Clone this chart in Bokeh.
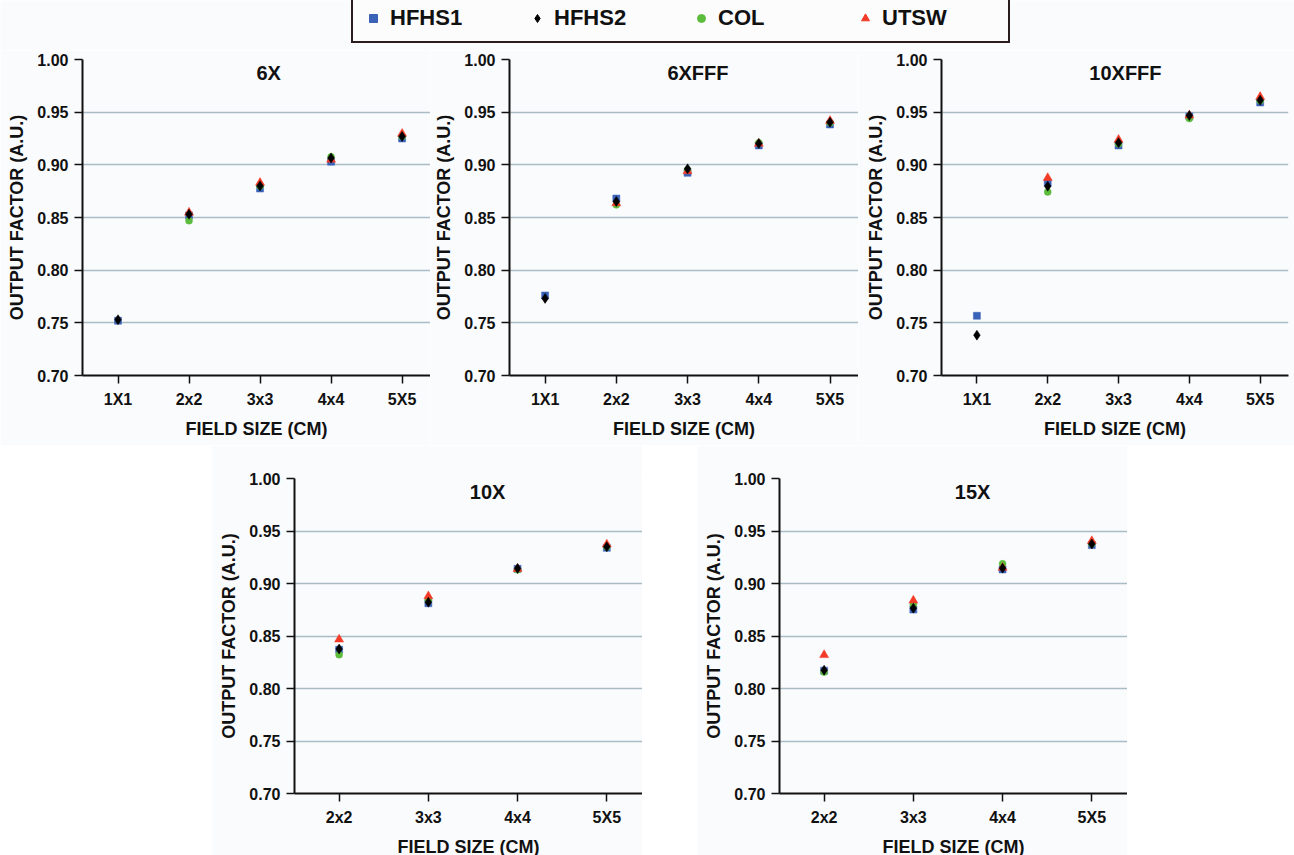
from bokeh.plotting import figure
from bokeh.models import (Range1d, FixedTicker, Label, Legend, LegendItem, Spacer,
                          PrintfTickFormatter, ColumnDataSource)
from bokeh.layouts import column, row
from bokeh.embed import file_html
from bokeh.resources import INLINE

nan = float("nan")

# ---------------- data ----------------
series = ["HFHS1", "HFHS2", "COL", "UTSW"]
cats_top = ["1X1", "2x2", "3x3", "4x4", "5X5"]
cats_bottom = ["2x2", "3x3", "4x4", "5X5"]
y_ticks = [0.70, 0.75, 0.80, 0.85, 0.90, 0.95, 1.00]
grid_ticks = [0.75, 0.80, 0.85, 0.90, 0.95]

# 6X
x6_hfhs1 = [0.752, 0.852, 0.8775, 0.903, 0.925]
x6_hfhs2 = [0.753, 0.853, 0.880, 0.9066, 0.927]
x6_col = [nan, 0.847, 0.880, 0.9076, 0.927]
x6_utsw = [nan, 0.8547, 0.883, 0.905, 0.9296]
# 6XFFF
x6fff_hfhs1 = [0.776, 0.868, 0.8924, 0.9184, 0.9383]
x6fff_hfhs2 = [0.7732, 0.8652, 0.8962, 0.9203, 0.9405]
x6fff_col = [nan, 0.862, 0.895, 0.9209, 0.940]
x6fff_utsw = [nan, 0.8636, 0.894, 0.920, 0.9418]
# 10XFFF
x10fff_hfhs1 = [0.7567, 0.883, 0.9184, 0.946, 0.9592]
x10fff_hfhs2 = [0.7383, 0.8797, 0.921, 0.9468, 0.9614]
x10fff_col = [nan, 0.8743, 0.920, 0.944, 0.961]
x10fff_utsw = [nan, 0.8876, 0.9238, 0.947, 0.9646]
# 10X
x10_hfhs1 = [0.837, 0.8812, 0.914, 0.934]
x10_hfhs2 = [0.8376, 0.8822, 0.9143, 0.935]
x10_col = [0.8322, 0.884, 0.913, 0.935]
x10_utsw = [0.8468, 0.8879, 0.914, 0.9373]
# 15X
x15_hfhs1 = [0.817, 0.8752, 0.9134, 0.9366]
x15_hfhs2 = [0.8175, 0.8765, 0.9146, 0.9376]
x15_col = [0.8156, 0.880, 0.9188, 0.938]
x15_utsw = [0.8319, 0.8838, 0.915, 0.9405]

# ---------------- styles ----------------
BG = "#fafbfd"
FONT = "Liberation Sans"
GRID = "#a9bcc6"
styles = {
    "HFHS1": dict(marker="square", color="#3a62b8", size=7),
    "HFHS2": dict(marker="diamond", color="#000000", size=10),
    "COL": dict(marker="circle", color="#5cbc3c", size=7),
    "UTSW": dict(marker="triangle", color="#f23a26", size=9),
}
draw_order = ["HFHS1", "COL", "UTSW", "HFHS2"]


def make_panel(title, cats, values, left, right, top, bottom, fw, fh, title_frac):
    n = len(cats)
    xr = Range1d(0.5, n + 0.4)
    p = figure(frame_width=fw, frame_height=fh,
               min_border_left=left, min_border_right=right,
               min_border_top=top, min_border_bottom=bottom,
               x_range=xr, y_range=Range1d(0.70, 1.00),
               toolbar_location=None, output_backend="svg",
               background_fill_color=BG, border_fill_color=BG,
               outline_line_color=None)
    xs = list(range(1, n + 1))
    for s in draw_order:
        st = styles[s]
        src = ColumnDataSource(dict(x=xs, y=values[s]))
        p.scatter("x", "y", source=src, marker=st["marker"], size=st["size"],
                  fill_color=st["color"], line_color=st["color"], line_width=0.5)
    # axes
    p.xaxis.ticker = FixedTicker(ticks=xs)
    p.xaxis.major_label_overrides = {i + 1: c for i, c in enumerate(cats)}
    p.yaxis.ticker = FixedTicker(ticks=y_ticks)
    p.yaxis.formatter = PrintfTickFormatter(format="%.2f")
    for ax in (p.xaxis[0], p.yaxis[0]):
        ax.axis_line_color = "#111111"
        ax.axis_line_width = 2
        ax.major_tick_line_color = "#111111"
        ax.major_tick_line_width = 1.5
        ax.major_tick_out = 8
        ax.major_tick_in = 0
        ax.minor_tick_line_color = None
        ax.major_label_text_font = FONT
        ax.major_label_text_font_style = "bold"
        ax.major_label_text_font_size = "16px"
        ax.major_label_text_color = "#111111"
        ax.axis_label_text_font = FONT
        ax.axis_label_text_font_style = "bold"
        ax.axis_label_text_font_size = "18px"
        ax.axis_label_text_color = "#111111"
    p.xaxis.axis_label = "FIELD SIZE (CM)"
    p.yaxis.axis_label = "OUTPUT FACTOR (A.U.)"
    p.xaxis.major_label_standoff = 7
    p.yaxis.major_label_standoff = 6
    p.xaxis.axis_label_standoff = 8
    p.yaxis.axis_label_standoff = 7
    p.xgrid.visible = False
    p.ygrid.ticker = FixedTicker(ticks=grid_ticks)
    p.ygrid.grid_line_color = GRID
    p.ygrid.grid_line_width = 1.5
    tx = xr.start + title_frac * (xr.end - xr.start)
    p.add_layout(Label(x=tx, y=0.9875, text=title, text_align="center",
                       text_baseline="middle", text_font=FONT,
                       text_font_style="bold", text_font_size="20px",
                       text_color="#111111"))
    return p


p1 = make_panel("6X", cats_top,
                {"HFHS1": x6_hfhs1, "HFHS2": x6_hfhs2, "COL": x6_col, "UTSW": x6_utsw},
                82, 0, 9, 70, 348, 316, 0.535)
p2 = make_panel("6XFFF", cats_top,
                {"HFHS1": x6fff_hfhs1, "HFHS2": x6fff_hfhs2, "COL": x6fff_col, "UTSW": x6fff_utsw},
                79, 0, 9, 70, 349, 316, 0.54)
p3 = make_panel("10XFFF", cats_top,
                {"HFHS1": x10fff_hfhs1, "HFHS2": x10fff_hfhs2, "COL": x10fff_col, "UTSW": x10fff_utsw},
                83, 6, 9, 70, 347, 316, 0.53)
p4 = make_panel("10X", cats_bottom,
                {"HFHS1": x10_hfhs1, "HFHS2": x10_hfhs2, "COL": x10_col, "UTSW": x10_utsw},
                82, 0, 33, 62, 348, 315, 0.555)
p5 = make_panel("15X", cats_bottom,
                {"HFHS1": x15_hfhs1, "HFHS2": x15_hfhs2, "COL": x15_col, "UTSW": x15_utsw},
                82, 0, 33, 62, 348, 315, 0.555)

# ---------------- legend strip ----------------
lg = figure(width=1294, height=50, x_range=Range1d(0, 1), y_range=Range1d(0, 1),
            toolbar_location=None, output_backend="svg", min_border=0,
            background_fill_color=BG, border_fill_color=BG, outline_line_color=None)
lg.axis.visible = False
lg.grid.visible = False
items = []
for s in series:
    st = styles[s]
    r = lg.scatter(x=[nan], y=[nan], marker=st["marker"], fill_color=st["color"],
                   line_color=st["color"])
    items.append(LegendItem(label=s, renderers=[r]))
legend = Legend(items=items, orientation="horizontal", location=(351, 7),
                border_line_color="#2b1d1d", border_line_width=2, border_line_alpha=1,
                background_fill_color="#fcfcfd", background_fill_alpha=1,
                padding=10, spacing=21, margin=0, label_width=116,
                label_standoff=7, glyph_width=20, glyph_height=20,
                label_text_font=FONT, label_text_font_style="bold",
                label_text_font_size="22px", label_text_color="#111111")
lg.add_layout(legend)

layout = column(lg,
                row(p1, p2, p3),
                row(Spacer(width=212, height=10), p4, Spacer(width=55, height=10), p5))

open("out.html", "w").write(file_html(layout, INLINE))
